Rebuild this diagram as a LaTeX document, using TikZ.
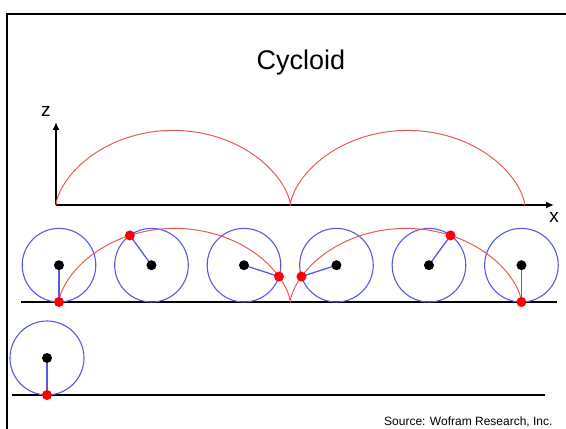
\documentclass[tikz,border=0pt]{standalone}
\usepackage{fontspec}
\setmainfont{Liberation Sans}
\usetikzlibrary{arrows.meta}
\definecolor{wheelblue}{RGB}{90,90,225}
\definecolor{curvered}{RGB}{232,90,90}

\begin{document}
\begin{tikzpicture}[
  x=1pt, y=1pt,
  axis/.style={-{Latex[length=8pt,width=7pt]}, line width=2pt},
  ground/.style={line width=1.2pt},
  wheel/.style={draw=wheelblue, line width=1.1pt},
  spoke/.style={wheelblue, line width=1.3pt},
  trace/.style={curvered, line width=1pt},
  hub/.style={circle, fill=black, inner sep=0pt, minimum size=10pt},
  tracer/.style={circle, fill=red, inner sep=0pt, minimum size=10pt}
]
\useasboundingbox (0,0) rectangle (566,429);
\draw[line width=2pt] (7,0) -- (7,415) -- (566,415);
\node[anchor=base, font=\fontsize{27}{30}\selectfont] (title) at (301,359) {Cycloid};

% upper plot
\coordinate (origin) at (56,224);
\coordinate (ztip) at (56,307);
\coordinate (xtip) at (554,224);
\draw[axis] (origin) -- (ztip);
\draw[axis] (origin) -- (xtip);
\node[anchor=base, font=\fontsize{19}{20}\selectfont] (zlabel) at (46,312) {z};
\node[anchor=base, font=\fontsize{19}{20}\selectfont] (xlabel) at (554,206) {x};
\draw[trace] plot[domain=0:4*pi, samples=200, variable=\u]
  ({56+37.3*(\u-sin(\u r))}, {224+37.3*(1-cos(\u r))});

% rolling wheels
\draw[ground] (21,127) -- (557,127);
\foreach \k in {0,...,5} {
  \pgfmathsetmacro{\ang}{0.8*pi*\k}
  \coordinate (c\k) at ({59+36.8*\ang}, 163.8);
  \coordinate (p\k) at ({59+36.8*(\ang-sin(\ang r))}, {127+36.8*(1-cos(\ang r))});
  \draw[wheel] (c\k) circle[radius=36.8];
}
\draw[trace] plot[domain=0:4*pi, samples=200, variable=\u]
  ({59+36.8*(\u-sin(\u r))}, {127+36.8*(1-cos(\u r))});
\foreach \k in {0,...,5} {
  \draw[spoke] (c\k) -- (p\k);
  \node[hub] (hub\k) at (c\k) {};
  \node[tracer] (pt\k) at (p\k) {};
}

% single wheel
\draw[ground] (12,34) -- (545,34);
\coordinate (c6) at (47,71);
\coordinate (p6) at (47,34);
\draw[wheel] (c6) circle[radius=37];
\draw[spoke] (c6) -- (p6);
\node[hub] (hub6) at (c6) {};
\node[tracer] (pt6) at (p6) {};

\node[anchor=base east, font=\fontsize{12}{14}\selectfont] (source) at (556,3) {Source: Wofram Research, Inc.};
\end{tikzpicture}
\end{document}
